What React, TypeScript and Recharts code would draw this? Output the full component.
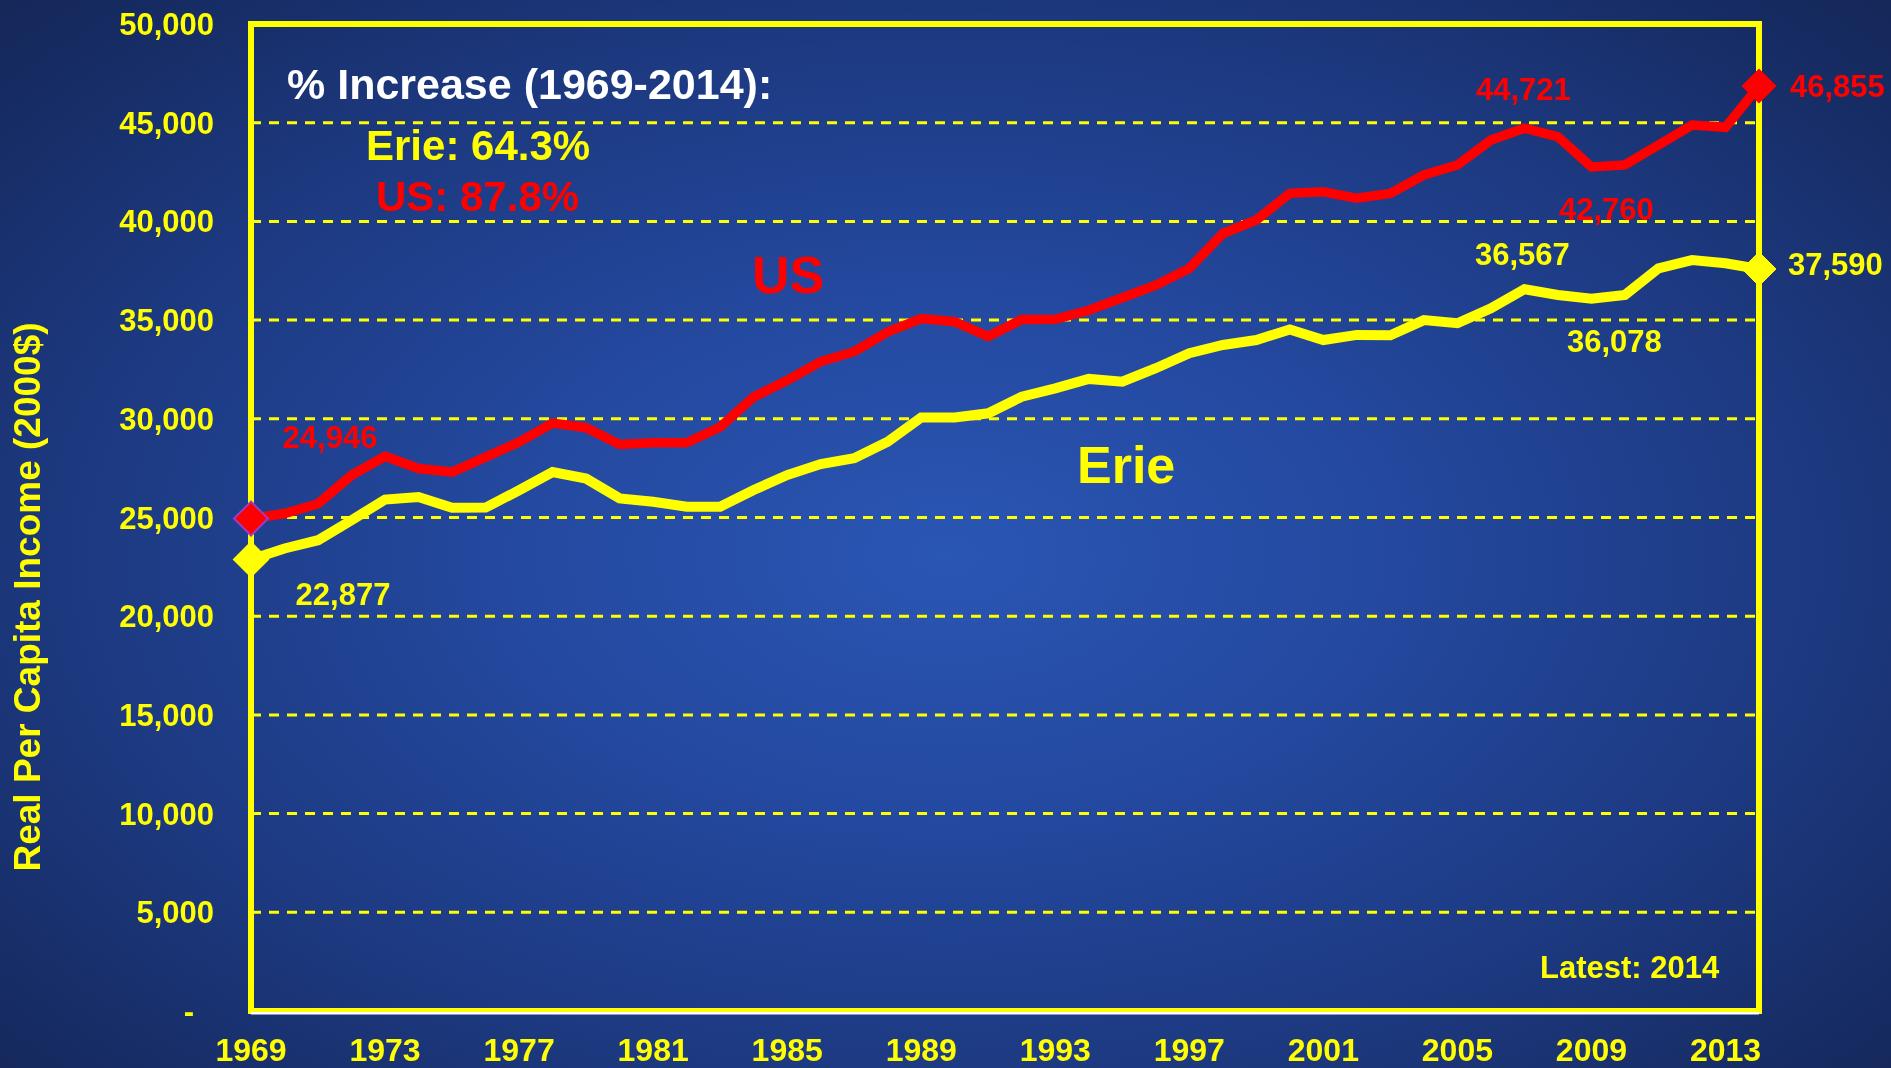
import React from 'react';
import { LineChart, Line, XAxis, YAxis, CartesianGrid, ReferenceArea, ReferenceLine, LabelList } from 'recharts';

const years = [
  1969, 1970, 1971, 1972, 1973, 1974, 1975, 1976, 1977, 1978, 1979, 1980, 1981, 1982, 1983, 1984,
  1985, 1986, 1987, 1988, 1989, 1990, 1991, 1992, 1993, 1994, 1995, 1996, 1997, 1998, 1999, 2000,
  2001, 2002, 2003, 2004, 2005, 2006, 2007, 2008, 2009, 2010, 2011, 2012, 2013, 2014,
];

const usIncome = [
  24946, 25200, 25700, 27140, 28100, 27480, 27300, 28060, 28820, 29780, 29550, 28700, 28790, 28790,
  29580, 31100, 31950, 32900, 33400, 34400, 35080, 34920, 34170, 35030, 35040, 35500, 36130, 36770,
  37620, 39380, 40070, 41420, 41500, 41170, 41420, 42350, 42860, 44120, 44721, 44290, 42760, 42860,
  43870, 44880, 44770, 46855,
];

const erieIncome = [
  22877, 23430, 23850, 24860, 25910, 26040, 25490, 25500, 26380, 27300, 26970, 25970, 25800, 25550,
  25550, 26390, 27150, 27710, 28000, 28840, 30070, 30070, 30280, 31120, 31540, 32020, 31880, 32560,
  33320, 33740, 33990, 34530, 33990, 34250, 34230, 35000, 34840, 35600, 36567, 36270, 36078, 36270,
  37620, 38040, 37880, 37590,
];

const yTicks = [0, 5000, 10000, 15000, 20000, 25000, 30000, 35000, 40000, 45000, 50000];
const xTicks = [1969, 1973, 1977, 1981, 1985, 1989, 1993, 1997, 2001, 2005, 2009, 2013];

// which points carry a value label, and where the label sits relative to the point
const usLabels: Record<number, { dx: number; dy: number; anchor: 'start' | 'middle' }> = {
  0: { dx: 79, dy: -71, anchor: 'middle' },
  38: { dx: -1, dy: -28, anchor: 'middle' },
  40: { dx: 15, dy: 53, anchor: 'middle' },
  45: { dx: 31, dy: 11, anchor: 'start' },
};
const erieLabels: Record<number, { dx: number; dy: number; anchor: 'start' | 'middle' }> = {
  0: { dx: 92, dy: 46, anchor: 'middle' },
  38: { dx: -2, dy: -24, anchor: 'middle' },
  40: { dx: 23, dy: 53, anchor: 'middle' },
  45: { dx: 29, dy: 6, anchor: 'start' },
};

const data = years.map((year, i) => ({ year, us: usIncome[i], erie: erieIncome[i] }));

const FONT = '"Liberation Sans", Arial, sans-serif';
const YELLOW = '#ffff00';
const RED = '#ff0000';
const LAST = years.length - 1;

const fmt = (v: number) => v.toLocaleString('en-US');

function makeDiamond(fill: string, stroke: string) {
  return (props: any) => {
    const { cx, cy, index } = props;
    if (index !== 0 && index !== LAST) return <g key={`d-${index}`} />;
    const r = 17;
    return (
      <polygon
        key={`d-${index}`}
        points={`${cx},${cy - r} ${cx + r},${cy} ${cx},${cy + r} ${cx - r},${cy}`}
        fill={fill}
        stroke={index === 0 ? stroke : fill}
        strokeWidth={index === 0 ? 2 : 1}
      />
    );
  };
}

function makeLabel(color: string, table: typeof usLabels) {
  return (props: any) => {
    const { x, y, index, value } = props;
    const spec = table[index];
    if (!spec) return null;
    return (
      <text
        key={`l-${index}`}
        x={x + spec.dx}
        y={y + spec.dy}
        textAnchor={spec.anchor}
        fill={color}
        fontFamily={FONT}
        fontWeight="bold"
        fontSize={31}
      >
        {fmt(value)}
      </text>
    );
  };
}

function YTick({ x, y, payload }: any) {
  const v = payload.value;
  return (
    <text
      x={v === 0 ? x - 20 : x}
      y={y + 11}
      textAnchor="end"
      fill={YELLOW}
      fontFamily={FONT}
      fontWeight="bold"
      fontSize={31}
    >
      {v === 0 ? '-' : fmt(v)}
    </text>
  );
}

function XTick({ x, y, payload }: any) {
  return (
    <text x={x} y={y + 50} textAnchor="middle" fill={YELLOW} fontFamily={FONT} fontWeight="bold" fontSize={32}>
      {payload.value}
    </text>
  );
}

const textStyle: React.CSSProperties = {
  position: 'absolute',
  fontFamily: FONT,
  fontWeight: 'bold',
  whiteSpace: 'nowrap',
  lineHeight: 1,
};

export default function App() {
  return (
    <div
      style={{
        position: 'fixed',
        left: 0,
        top: 0,
        width: 1891,
        height: 1068,
        overflow: 'hidden',
        background:
          'radial-gradient(ellipse 75% 80% at 50% 52%, #2a56b4 0%, #2449a0 30%, #1d3a82 60%, #162b62 85%, #132552 100%)',
      }}
    >
      <LineChart width={1891} height={1068} data={data} margin={{ top: 24, right: 132, left: 0, bottom: 0 }}>
        <CartesianGrid vertical={false} stroke={YELLOW} strokeWidth={3} strokeDasharray="10 8" />
        <XAxis
          dataKey="year"
          type="number"
          domain={[1969, 2014]}
          ticks={xTicks}
          height={57}
          tickSize={0}
          tickMargin={0}
          axisLine={false}
          tick={<XTick />}
          interval={0}
        />
        <YAxis
          type="number"
          domain={[0, 50000]}
          ticks={yTicks}
          width={251}
          tickSize={0}
          tickMargin={37}
          axisLine={false}
          tick={<YTick />}
          interval={0}
        />
        <ReferenceArea
          x1={1969}
          x2={2014}
          y1={0}
          y2={50000}
          fill="none"
          stroke={YELLOW}
          strokeWidth={6}
          ifOverflow="visible"
        />
        <ReferenceLine y={-120} stroke="#ffffff" strokeWidth={2.5} ifOverflow="visible" />
        <Line
          dataKey="erie"
          stroke={YELLOW}
          strokeWidth={10}
          strokeLinejoin="miter"
          dot={makeDiamond(YELLOW, YELLOW)}
          activeDot={false}
          isAnimationActive={false}
        >
          <LabelList dataKey="erie" content={makeLabel(YELLOW, erieLabels)} />
        </Line>
        <Line
          dataKey="us"
          stroke={RED}
          strokeWidth={9.5}
          strokeLinejoin="miter"
          dot={makeDiamond(RED, '#9b3cc8')}
          activeDot={false}
          isAnimationActive={false}
        >
          <LabelList dataKey="us" content={makeLabel(RED, usLabels)} />
        </Line>
      </LineChart>

      <div
        style={{
          ...textStyle,
          color: YELLOW,
          fontSize: 37,
          left: 27,
          top: 597,
          transform: 'translate(-50%, -50%) rotate(-90deg)',
        }}
      >
        Real Per Capita Income (2000$)
      </div>

      <div style={{ ...textStyle, color: '#ffffff', fontSize: 43, left: 287, top: 101 - 38 }}>
        % Increase (1969-2014):
      </div>
      <div style={{ ...textStyle, color: YELLOW, fontSize: 42, left: 366, top: 162 - 37 }}>Erie: 64.3%</div>
      <div style={{ ...textStyle, color: RED, fontSize: 42, left: 376, top: 213 - 37 }}>US: 87.8%</div>
      <div style={{ ...textStyle, color: RED, fontSize: 52, left: 752, top: 295 - 46 }}>US</div>
      <div style={{ ...textStyle, color: YELLOW, fontSize: 52, left: 1077, top: 485 - 46 }}>Erie</div>
      <div style={{ ...textStyle, color: YELLOW, fontSize: 31, left: 1540, top: 980 - 28 }}>Latest: 2014</div>
    </div>
  );
}
